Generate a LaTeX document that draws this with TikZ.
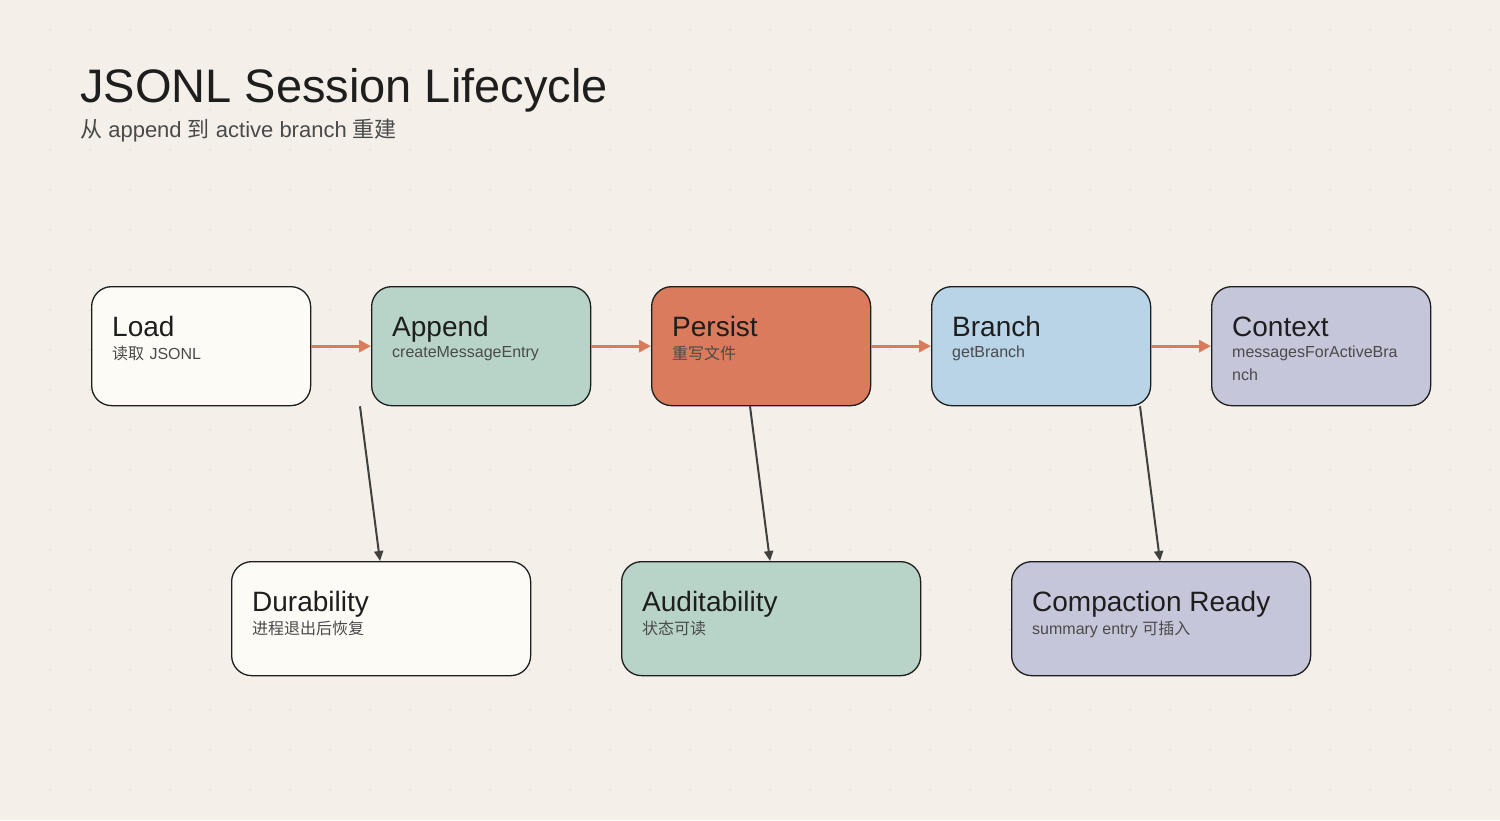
\documentclass[tikz,border=0pt]{standalone}
\usepackage{fontspec}
\setmainfont{Liberation Sans}
\newfontfamily\cjk{Noto Sans CJK SC}
\usetikzlibrary{calc,arrows.meta}
\definecolor{bg}{HTML}{F4F0E9}
\definecolor{ink}{HTML}{1E1E1E}
\definecolor{sub}{HTML}{4A4A4A}
\definecolor{cwhite}{HTML}{FDFBF6}
\definecolor{cgreen}{HTML}{B8D4C8}
\definecolor{corange}{HTML}{D97B5C}
\definecolor{cblue}{HTML}{B8D4E6}
\definecolor{cpurple}{HTML}{C6C6DA}
\definecolor{dotc}{HTML}{DEDAD2}
\tikzset{
 card/.style={draw=ink,line width=1.3pt,rounded corners=20pt,anchor=north west,inner sep=0pt},
 flow/.style={draw=corange,line width=3pt,-{Triangle[length=12pt,width=12pt]}},
 down/.style={draw=ink!85,line width=2pt,-{Triangle[length=10pt,width=9pt]}},
}
\newcommand{\cardtext}[3]{\node[anchor=north west,align=left,text width=#3] at #1 {#2};}
\begin{document}
\begin{tikzpicture}[x=1pt,y=-1pt]
\fill[bg] (0,0) rectangle (1500,820);
\useasboundingbox (0,0) rectangle (1500,820);
\foreach \i in {50,90,...,1490}{\foreach \j in {30,70,...,810}{\fill[dotc] (\i,\j) circle (0.9pt);}}
\node[anchor=base west,font=\fontsize{47}{50}\selectfont,text=ink,inner sep=0] (title) at (80,102) {JSONL Session Lifecycle};
\node[anchor=base west,font=\fontsize{22}{24}\selectfont,text=sub,inner sep=0] (subt) at (80,137) {{\cjk 从} append {\cjk 到} active branch {\cjk 重建}};
% top cards
\newcommand{\topcard}[5]{%
 \node[card,fill=#2,minimum width=219pt,minimum height=119pt] (#1) at (#3,286) {};
 \node[anchor=base west,font=\fontsize{28}{30}\selectfont,text=ink,inner sep=0] at (#3+21,336) {#4};
 \node[anchor=north west,font=\fontsize{16}{23}\selectfont,text=sub,inner sep=0,text width=180pt,align=left] at (#3+21,346) {#5};}
\topcard{load}{cwhite}{91}{Load}{{\cjk 读取} JSONL}
\topcard{append}{cgreen}{371}{Append}{createMessageEntry}
\topcard{persist}{corange}{651}{Persist}{{\cjk 重写文件}}
\topcard{branch}{cblue}{931}{Branch}{getBranch}
\topcard{context}{cpurple}{1211}{Context}{messagesForActiveBra\\nch}
\newcommand{\botcard}[5]{%
 \node[card,fill=#2,minimum width=299pt,minimum height=114pt] (#1) at (#3,561) {};
 \node[anchor=base west,font=\fontsize{28}{30}\selectfont,text=ink,inner sep=0] at (#3+21,611) {#4};
 \node[anchor=north west,font=\fontsize{16}{23}\selectfont,text=sub,inner sep=0,align=left] at (#3+21,621) {#5};}
\botcard{dur}{cwhite}{231}{Durability}{{\cjk 进程退出后恢复}}
\botcard{aud}{cgreen}{621}{Auditability}{{\cjk 状态可读}}
\botcard{comp}{cpurple}{1011}{Compaction Ready}{summary entry {\cjk 可插入}}
\draw[flow] (load.east) -- (append.west);
\draw[flow] (append.east) -- (persist.west);
\draw[flow] (persist.east) -- (branch.west);
\draw[flow] (branch.east) -- (context.west);
\draw[down] ($(append.south west)+(-11,0)$) -- ($(dur.north west)+(149,0)$);
\draw[down] ($(persist.south west)+(99,0)$) -- ($(aud.north west)+(149,0)$);
\draw[down] ($(branch.south west)+(209,0)$) -- ($(comp.north west)+(149,0)$);
\end{tikzpicture}
\end{document}
